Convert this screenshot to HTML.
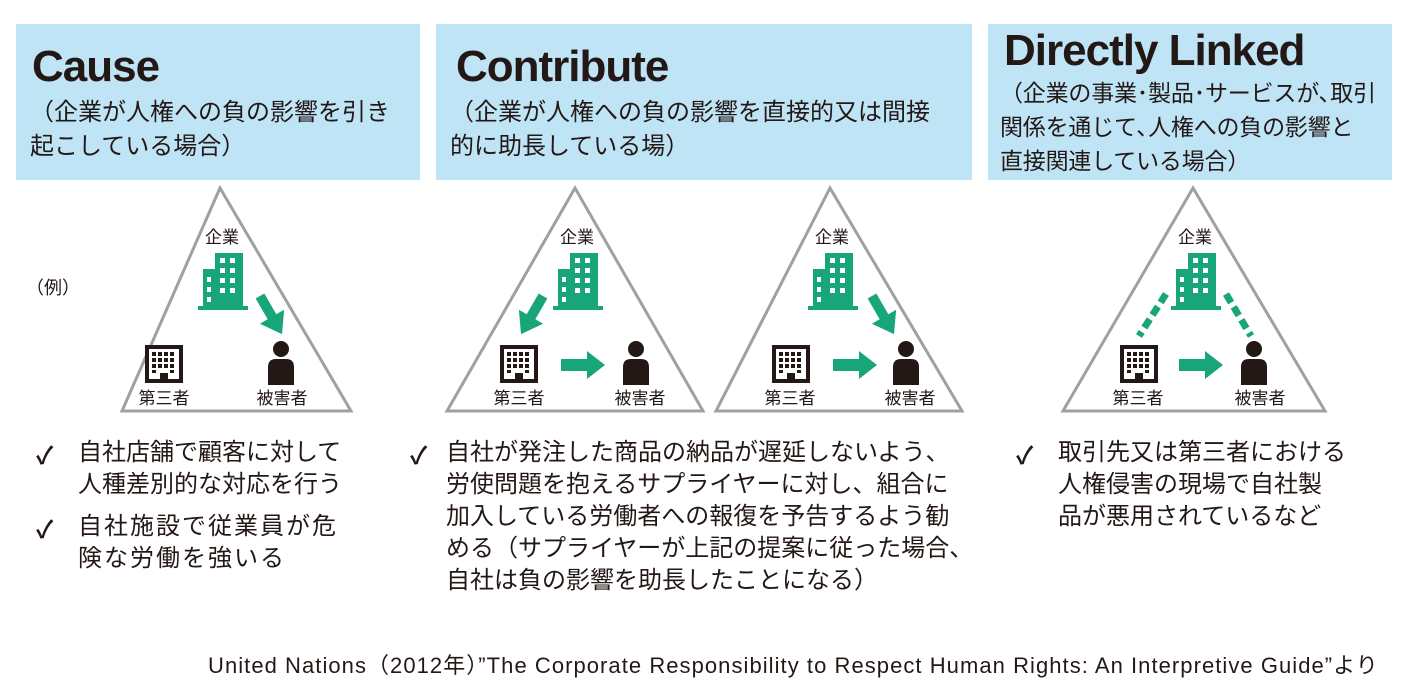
<!DOCTYPE html>
<html><head><meta charset="utf-8"><style>
body{margin:0;width:1410px;height:696px;background:#fff;position:relative;overflow:hidden;font-family:"Liberation Sans","Noto Sans CJK JP",sans-serif;color:#231815}
.hd{position:absolute;background:#bee4f6;top:24px;height:156px}
.t{position:absolute;font-weight:bold;font-size:44px;letter-spacing:-1px}
.s{position:absolute;font-size:24px;line-height:34px;white-space:nowrap}
.b{position:absolute;font-size:24px;line-height:32px;white-space:nowrap}
.ck{position:absolute;font-size:24px;font-weight:bold}
</style></head><body>
<div class="hd" style="left:16px;width:404px"></div>
<div class="hd" style="left:436px;width:536px"></div>
<div class="hd" style="left:988px;width:404px"></div>
<div class="t" style="left:32px;top:42px">Cause</div>
<div class="t" style="left:456px;top:42px">Contribute</div>
<div class="t" style="left:1004px;top:26px">Directly Linked</div>
<div class="s" style="left:30px;top:96px">（企業が人権への負の影響を引き<br>起こしている場合）</div>
<div class="s" style="left:450px;top:96px">（企業が人権への負の影響を直接的又は間接<br>的に助長している場）</div>
<div class="s" style="left:1000px;top:76px;font-size:23px;letter-spacing:-0.2px">（企業の事業･製品･サービスが､取引<br>関係を通じて､人権への負の影響と<br>直接関連している場合）</div>
<div style="position:absolute;left:26px;top:274px;font-size:18px">（例）</div>
<svg width="1410" height="696" style="position:absolute;left:0;top:0">
<defs>
<g id="gb"><rect x="-5" y="0" width="28" height="55" fill="#18a57a"/><rect x="-17" y="16" width="12" height="39" fill="#18a57a"/><rect x="-22" y="53" width="50" height="4" fill="#18a57a"/>
<g fill="#fff"><rect x="0" y="5" width="5" height="5"/><rect x="10" y="5" width="5" height="5"/><rect x="0" y="15" width="5" height="5"/><rect x="10" y="15" width="5" height="5"/><rect x="0" y="25" width="5" height="5"/><rect x="10" y="25" width="5" height="5"/><rect x="0" y="35" width="5" height="5"/><rect x="10" y="35" width="5" height="5"/><rect x="-13" y="24" width="4" height="5"/><rect x="-13" y="34" width="4" height="5"/><rect x="-13" y="44" width="4" height="5"/></g></g>
<g id="kb"><rect x="0" y="0" width="38" height="38" fill="#231815"/><rect x="4" y="4" width="30" height="30" fill="#fff"/>
<g fill="#231815"><rect x="7" y="7" width="4" height="4"/><rect x="13" y="7" width="4" height="4"/><rect x="19" y="7" width="4" height="4"/><rect x="25" y="7" width="4" height="4"/>
<rect x="7" y="13" width="4" height="4"/><rect x="13" y="13" width="4" height="4"/><rect x="19" y="13" width="4" height="4"/><rect x="25" y="13" width="4" height="4"/>
<rect x="7" y="19" width="4" height="4"/><rect x="13" y="19" width="4" height="4"/><rect x="19" y="19" width="4" height="4"/><rect x="25" y="19" width="4" height="4"/>
<rect x="7" y="25" width="4" height="3"/><rect x="25" y="25" width="4" height="3"/><rect x="15" y="28" width="8" height="8"/></g></g>
<g id="pp"><circle cx="0" cy="8" r="8" fill="#231815"/><path d="M-13 44 V26 Q-13 18 -5 18 H5 Q13 18 13 26 V44Z" fill="#231815"/></g>
<g id="ha"><path d="M0 -6 H26 V-14 L44 0 L26 14 V6 H0Z" fill="#18a57a"/></g>
<g id="da"><path d="M-5 0 L5 0 L5 24 L14 24 L0 44 L-14 24 L-5 24Z" fill="#18a57a"/></g>
</defs>
<g fill="none" stroke="#a0a0a0" stroke-width="3">
<polygon points="220,188 122,411 351,411"/>
<polygon points="575,188 447,411 703,411"/>
<polygon points="830,188 716,411 962,411"/>
<polygon points="1193,188 1063,411 1325,411"/>
</g>
<use href="#gb" x="220" y="253"/><use href="#da" transform="translate(260,296) rotate(-30)"/><use href="#kb" x="145" y="345"/><use href="#pp" x="281" y="341"/>
<use href="#gb" x="575" y="253"/><use href="#da" transform="translate(543,296) rotate(30)"/><use href="#kb" x="500" y="345"/><use href="#ha" x="561" y="365"/><use href="#pp" x="636" y="341"/>
<use href="#gb" x="830" y="253"/><use href="#da" transform="translate(872,296) rotate(-30)"/><use href="#kb" x="772" y="345"/><use href="#ha" x="833" y="365"/><use href="#pp" x="906" y="341"/>
<use href="#gb" x="1193" y="253"/><use href="#kb" x="1120" y="345"/><use href="#ha" x="1179" y="365"/><use href="#pp" x="1254" y="341"/>
<g stroke="#18a57a" stroke-width="7" stroke-dasharray="10 5"><line x1="1166" y1="294" x2="1139" y2="336"/><line x1="1226" y1="294" x2="1251" y2="336"/></g>
<g font-size="17" fill="#231815" text-anchor="middle" font-family="Liberation Sans,Noto Sans CJK JP,sans-serif">
<text x="222" y="243">企業</text><text x="164" y="404">第三者</text><text x="282" y="404">被害者</text>
<text x="577" y="243">企業</text><text x="519" y="404">第三者</text><text x="640" y="404">被害者</text>
<text x="832" y="243">企業</text><text x="790" y="404">第三者</text><text x="910" y="404">被害者</text>
<text x="1195" y="243">企業</text><text x="1138" y="404">第三者</text><text x="1260" y="404">被害者</text>
</g></svg>
<div class="ck" style="left:36px;top:436px">✓</div>
<div class="b" style="left:78px;top:437px">自社店舗で顧客に対して<br>人種差別的な対応を行う</div>
<div class="ck" style="left:36px;top:510px">✓</div>
<div class="b" style="left:78px;top:511px;letter-spacing:2px">自社施設で従業員が危<br>険な労働を強いる</div>
<div class="ck" style="left:410px;top:436px">✓</div>
<div class="b" style="left:446px;top:437px">自社が発注した商品の納品が遅延しないよう、<br>労使問題を抱えるサプライヤーに対し、組合に<br>加入している労働者への報復を予告するよう勧<br>める（サプライヤーが上記の提案に従った場合、<br>自社は負の影響を助長したことになる）</div>
<div class="ck" style="left:1016px;top:436px">✓</div>
<div class="b" style="left:1058px;top:437px">取引先又は第三者における<br>人権侵害の現場で自社製<br>品が悪用されているなど</div>
<div style="position:absolute;left:208px;top:648px;font-size:22px;letter-spacing:1.05px;white-space:nowrap">United Nations（2012年）”The Corporate Responsibility to Respect Human Rights: An Interpretive Guide”より</div>
</body></html>
